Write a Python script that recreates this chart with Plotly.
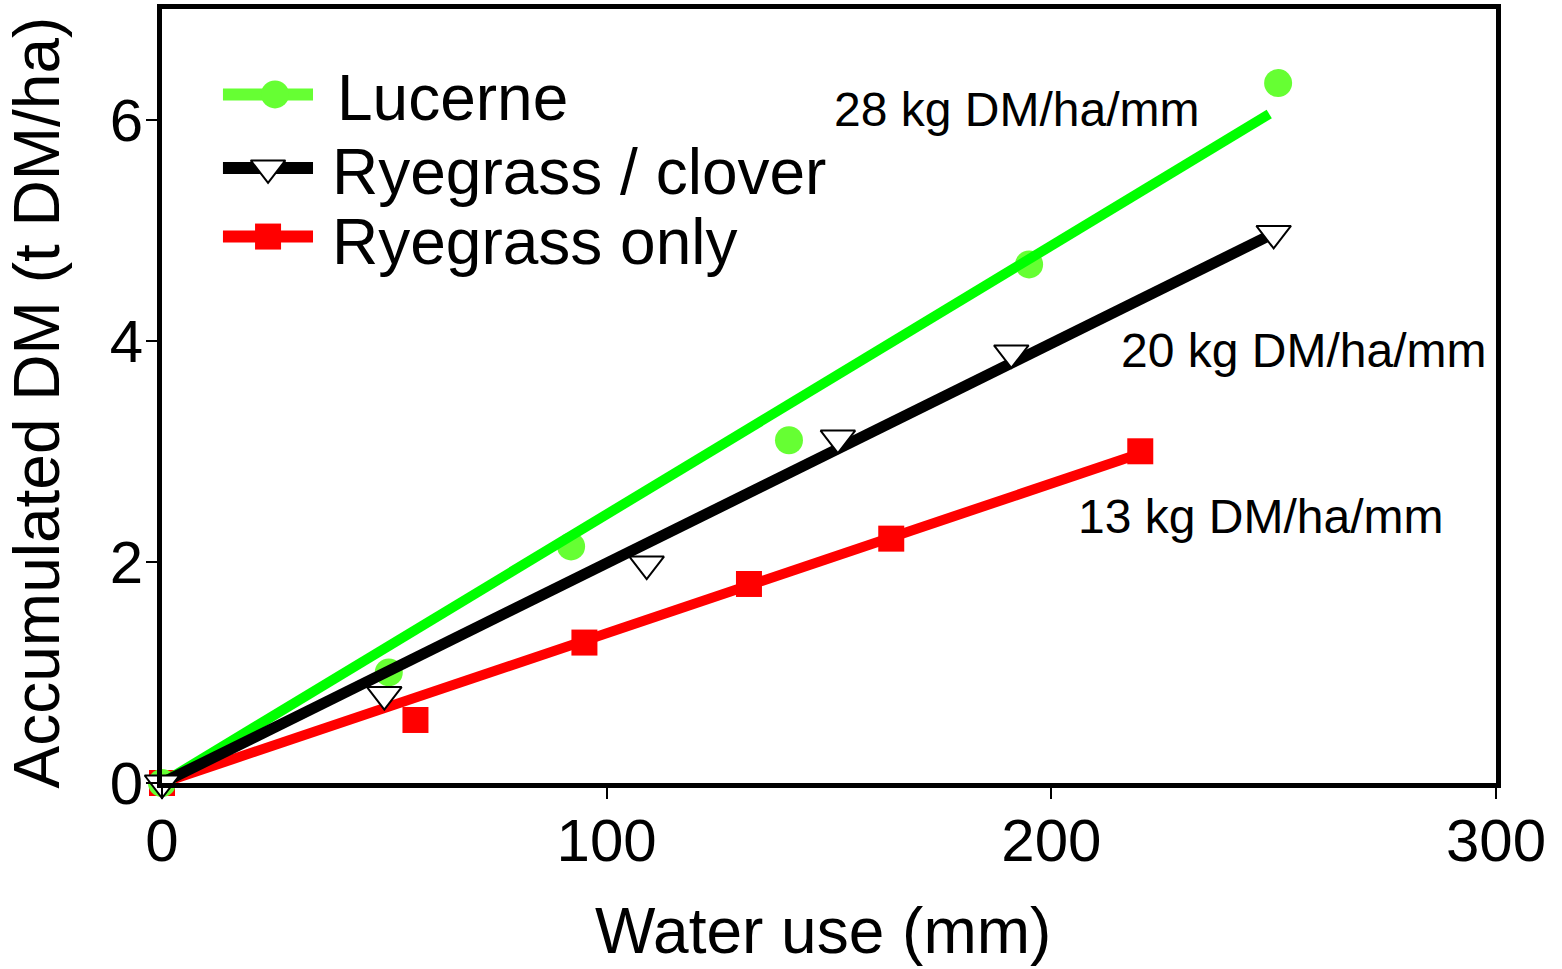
import plotly.graph_objects as go

# Water use (mm) vs accumulated dry matter (t DM/ha)
lucerne_x = [0, 51, 92, 141, 195, 251]
lucerne_y = [0, 1.0, 2.14, 3.1, 4.69, 6.33]

clover_x = [0, 50, 109, 152, 191, 250]
clover_y = [0, 0.8, 1.98, 3.12, 3.89, 4.97]

rye_x = [0, 57, 95, 132, 164, 220]
rye_y = [0, 0.57, 1.27, 1.8, 2.21, 3.0]

# fitted regression lines (start, end)
lucerne_fit_x = [0, 249]
lucerne_fit_y = [0, 6.05]
clover_fit_x = [0, 249]
clover_fit_y = [0, 4.95]
rye_fit_x = [0, 220]
rye_fit_y = [0, 2.98]

slope_labels = ["28 kg DM/ha/mm", "20 kg DM/ha/mm", "13 kg DM/ha/mm"]
slope_label_pos = [(150.6, 6.09), (215.2, 3.91), (205.6, 2.41)]

series_names = ["Lucerne", "Ryegrass / clover", "Ryegrass only"]
x_title = "Water use (mm)"
y_title = "Accumulated DM (t DM/ha)"

x_ticks = [0, 100, 200, 300]
y_ticks = [0, 2, 4, 6]

FONT = "Arial, Liberation Sans, sans-serif"
LIME = "#00ff00"
LIGHT_GREEN = "#66ff33"
RED = "#ff0000"
TRI_SIZE = 30

fig = go.Figure()

fig.add_trace(go.Scatter(x=rye_x, y=rye_y, mode="markers",
                         marker=dict(symbol="square", size=26, color=RED),
                         cliponaxis=False, showlegend=False))
fig.add_trace(go.Scatter(x=rye_fit_x, y=rye_fit_y, mode="lines",
                         line=dict(color=RED, width=10), showlegend=False))
fig.add_trace(go.Scatter(x=lucerne_x, y=lucerne_y, mode="markers",
                         marker=dict(symbol="circle", size=28, color=LIGHT_GREEN),
                         cliponaxis=False, showlegend=False))
fig.add_trace(go.Scatter(x=lucerne_fit_x, y=lucerne_fit_y, mode="lines",
                         line=dict(color=LIME, width=10), showlegend=False))
fig.add_trace(go.Scatter(x=clover_fit_x, y=clover_fit_y, mode="lines",
                         line=dict(color="black", width=11), showlegend=False))
fig.add_trace(go.Scatter(x=clover_x, y=clover_y, mode="markers",
                         marker=dict(symbol="triangle-down", size=TRI_SIZE, color="white",
                                     line=dict(color="black", width=2)),
                         cliponaxis=False, showlegend=False))

# Legend keys drawn on an overlay axis spanning the plot area (0..1 each way)
key_x0, key_x1 = 0.0457, 0.1132
key_rows = [0.8896, 0.7946, 0.7060]
key_mx = [0.0847, 0.0795, 0.0795]
key_style = [
    (LIGHT_GREEN, dict(symbol="circle", size=28, color=LIGHT_GREEN)),
    ("black", dict(symbol="triangle-down", size=TRI_SIZE, color="white",
                   line=dict(color="black", width=2))),
    (RED, dict(symbol="square", size=26, color=RED)),
]
for ky, mx, (lc, mk) in zip(key_rows, key_mx, key_style):
    fig.add_trace(go.Scatter(x=[key_x0, key_x1], y=[ky, ky], mode="lines",
                             line=dict(color=lc, width=12),
                             xaxis="x2", yaxis="y2", showlegend=False))
    fig.add_trace(go.Scatter(x=[mx], y=[ky], mode="markers", marker=mk,
                             xaxis="x2", yaxis="y2", showlegend=False))

annotations = []
text_x = [0.1297, 0.1262, 0.1262]
text_y = [0.8850, 0.7890, 0.6990]
for name, tx, ty in zip(series_names, text_x, text_y):
    annotations.append(dict(text=name, x=tx, y=ty, xref="x2 domain", yref="y2 domain",
                            xanchor="left", yanchor="middle", showarrow=False,
                            font=dict(family=FONT, size=64, color="black")))
for lab, (lx, ly) in zip(slope_labels, slope_label_pos):
    annotations.append(dict(text=lab, x=lx, y=ly, xref="x", yref="y",
                            xanchor="left", yanchor="middle", showarrow=False,
                            font=dict(family=FONT, size=48, color="black")))

# axis titles
annotations.append(dict(text=x_title, x=0.4955, y=-0.1913, xref="paper", yref="paper",
                        xanchor="center", yanchor="middle", showarrow=False,
                        font=dict(family=FONT, size=64, color="black")))
annotations.append(dict(text=y_title, x=-0.0937, y=0.4917, xref="paper", yref="paper",
                        xanchor="center", yanchor="middle", showarrow=False,
                        textangle=-90, borderpad=0,
                        font=dict(family=FONT, size=64, color="black")))

axis_common = dict(showline=True, linewidth=5, linecolor="black", mirror=True,
                   ticks="outside", ticklen=11, tickwidth=2, tickcolor="black",
                   showgrid=False, zeroline=False,
                   tickfont=dict(family=FONT, size=60, color="black"))

fig.update_layout(
    width=1562, height=969,
    margin=dict(l=162, r=66, t=4, b=186),
    paper_bgcolor="white", plot_bgcolor="white",
    xaxis=dict(range=[0, 300], tickvals=x_ticks, ticklabelstandoff=-10,
               **axis_common),
    yaxis=dict(range=[0, 7], tickvals=y_ticks, ticklabelstandoff=-9,
               **axis_common),
    xaxis2=dict(overlaying="x", range=[0, 1], visible=False, fixedrange=True),
    yaxis2=dict(overlaying="y", range=[0, 1], visible=False, fixedrange=True),
    annotations=annotations,
    showlegend=False,
)

fig.write_html("out.html")
